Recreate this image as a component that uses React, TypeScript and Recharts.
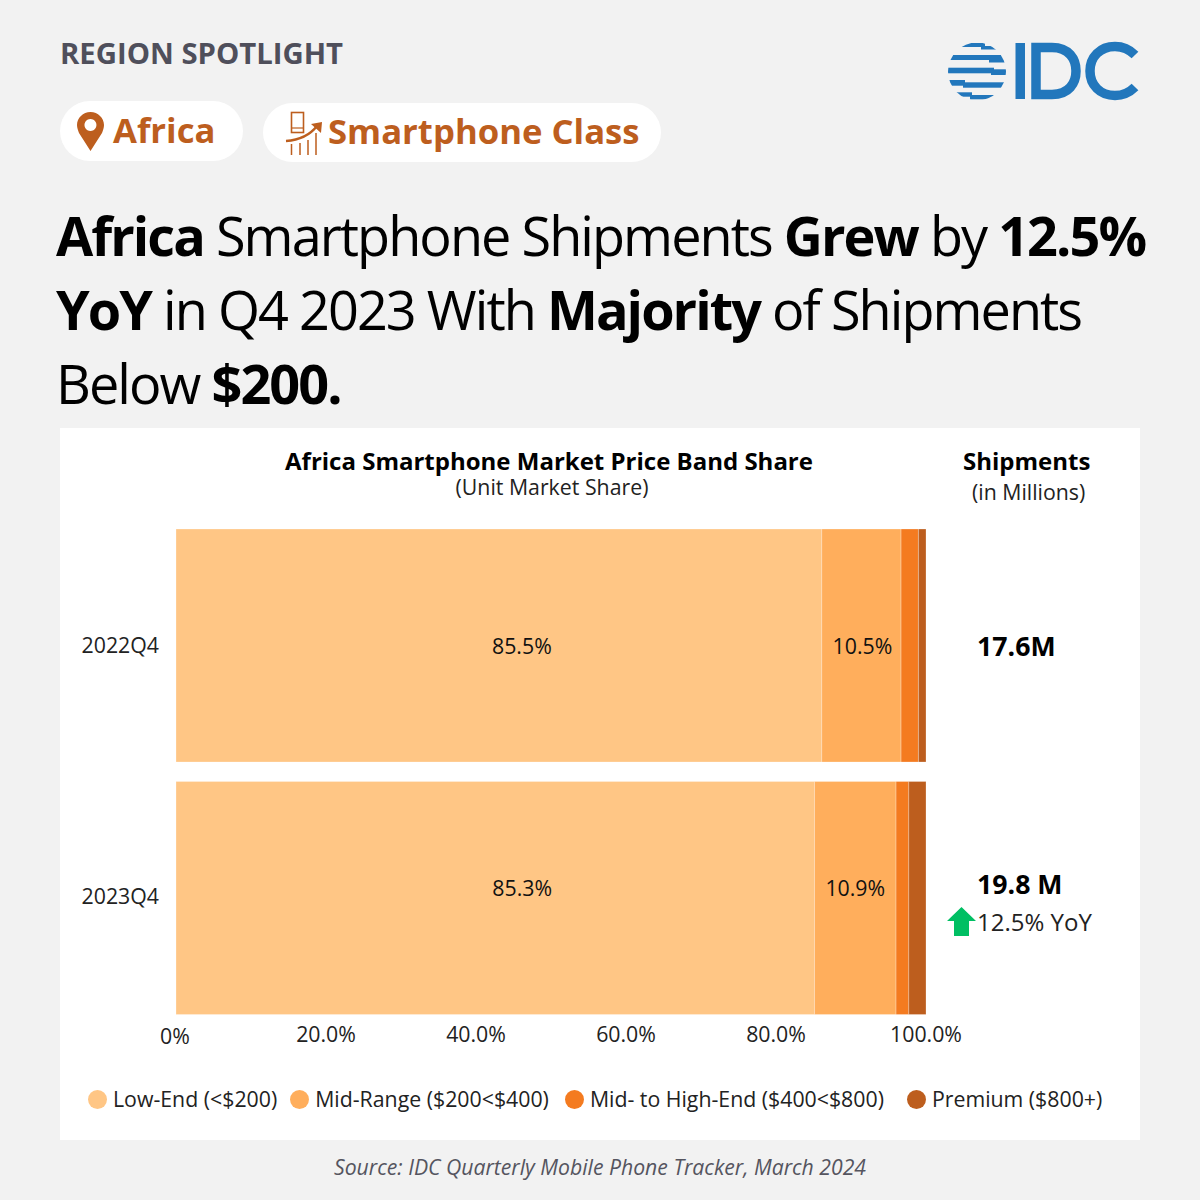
import { BarChart, Bar, XAxis, YAxis, Legend, LabelList } from 'recharts'

const FONT = '"Open Sans", sans-serif'
const BRAND = '#BD5E1E'
const LOGO = '#2277BC'

const quarters = ['2022Q4', '2023Q4']
const lowEnd = [85.5, 85.3]
const midRange = [10.5, 10.9]
const midHigh = [2.3, 1.7]
const premium = [1.0, 2.3]
const xTicks = [0, 0.2, 0.4, 0.6, 0.8, 1]

const seriesNames = [
  'Low-End (<$200)',
  'Mid-Range ($200<$400)',
  'Mid- to High-End ($400<$800)',
  'Premium ($800+)',
]
const seriesColors = ['#FFC685', '#FFAE5C', '#F47B20', '#BD5E1E']
const seriesValues = [lowEnd, midRange, midHigh, premium]

const chartData = quarters.map((q, i) => {
  const row: Record<string, number | string> = { quarter: q }
  seriesNames.forEach((name, s) => {
    row[name] = seriesValues[s][i]
  })
  return row
})

function XTick({ x, y, payload }: any) {
  const isZero = payload.value === 0
  return (
    <text
      x={isZero ? x - 1 : x}
      y={isZero ? y + 12 : y + 10}
      textAnchor="middle"
      fontSize={21.3}
      fontFamily={FONT}
      fill="#222"
    >
      {isZero ? '0%' : `${(payload.value * 100).toFixed(1)}%`}
    </text>
  )
}

function YTick({ x, y, payload }: any) {
  // the reference's second label sits a little above its bar's centre
  const up = payload.value === '2023Q4' ? 1 : -1
  return (
    <text x={x} y={y - up + 7} textAnchor="end" fontSize={21.3} fontFamily={FONT} fill="#222">
      {payload.value}
    </text>
  )
}

// the picture does not centre its low-end labels, and lifts the 2023 row
const labelShiftX = [[23, 27], [1, 0]]
const labelShiftY = [1, -9]

function BarLabel({ x, y, width, height, value, index, series }: any) {
  return (
    <text
      x={x + width / 2 + labelShiftX[series][index]}
      y={y + height / 2 + labelShiftY[index] + 7}
      textAnchor="middle"
      fontSize={21.3}
      fontFamily={FONT}
      fill="#111"
    >
      {`${Number(value).toFixed(1)}%`}
    </text>
  )
}

function LegendRow({ payload }: any) {
  const gaps = [13, 16, 23, 0]
  return (
    <div style={{ display: 'flex', fontFamily: FONT, fontSize: 21.3, color: '#222', lineHeight: '24px' }}>
      {(payload || []).map((p: any, i: number) => (
        <div key={p.value} style={{ display: 'flex', alignItems: 'center', marginRight: gaps[i] }}>
          <span
            style={{
              width: 19,
              height: 19,
              borderRadius: '50%',
              background: p.color,
              marginRight: 6,
              display: 'inline-block',
            }}
          />
          {p.value}
        </div>
      ))}
    </div>
  )
}

const logoStripes = [
  [945, 985, 43, 4],
  [981, 1010, 46, 3.5],
  [945, 992, 55, 5],
  [989, 1010, 55, 7.5],
  [945, 994, 67.7, 5.6],
  [991, 1010, 69.3, 5.7],
  [945, 965, 80, 5.7],
  [963, 1010, 82.3, 5.4],
  [945, 972, 92.3, 4.4],
  [970, 1010, 95, 4.3],
]

function Logo() {
  return (
    <svg width={1200} height={120} style={{ position: 'absolute', left: 0, top: 0 }}>
      <defs>
        <clipPath id="globe">
          <circle cx={977} cy={71.5} r={29} />
        </clipPath>
      </defs>
      <g clipPath="url(#globe)" fill={LOGO}>
        {logoStripes.map(([x1, x2, y, h], i) => (
          <rect key={i} x={x1} y={y} width={x2 - x1} height={h} />
        ))}
      </g>
      <rect x={1015.5} y={43} width={9.5} height={56} fill={LOGO} />
      <path
        d="M1036 47.5 H1052 C1069 47.5 1076 59 1076 71 C1076 83 1069 94.5 1052 94.5 H1036 Z"
        fill="none"
        stroke={LOGO}
        strokeWidth={9.5}
      />
      <path
        d="M1135 55 C1129 49 1122 46.5 1115 46.5 C1100 46.5 1090 57 1090 71 C1090 85 1100 95.5 1115 95.5 C1122 95.5 1129 93 1135 87"
        fill="none"
        stroke={LOGO}
        strokeWidth={9.5}
      />
    </svg>
  )
}

function PinIcon() {
  return (
    <svg width={32} height={42} style={{ position: 'absolute', left: 74, top: 111 }}>
      <path
        fillRule="evenodd"
        d="M16.5 1 C9 1 3 7 3 14 C3 17 4 19 5 22 L16.5 40 L28 22 C29 19 30 17 30 14 C30 7 24 1 16.5 1 Z M16.5 8 A6 6 0 1 1 16.4 8 Z"
        fill={BRAND}
      />
    </svg>
  )
}

function ClassIcon() {
  return (
    <svg width={40} height={48} style={{ position: 'absolute', left: 284, top: 110 }}>
      <g fill="none" stroke={BRAND}>
        <rect x={7.5} y={2.5} width={12} height={20} strokeWidth={1.6} />
        <path d="M8 18 H19" strokeWidth={1.2} />
        <path d="M2 31 C16 30 26 25 33 16" strokeWidth={2.4} />
        <path d="M7.5 34 V45 M16 33 V45 M24 30 V45 M32 23 V45" strokeWidth={1.5} />
      </g>
      <path d="M27 14 L38 12 L37 23 Z" fill={BRAND} />
    </svg>
  )
}

function Txt({ x, y, children, style }: any) {
  return (
    <div style={{ position: 'absolute', left: x, top: y, whiteSpace: 'nowrap', fontFamily: FONT, ...style }}>
      {children}
    </div>
  )
}

export default function App() {
  const titleStyle = { fontSize: 54, letterSpacing: -1.95, color: '#000', lineHeight: '74px' }
  return (
    <div style={{ position: 'absolute', left: 0, top: 0, width: 1200, height: 1200, background: '#F2F2F2', overflow: 'hidden' }}>
      <Txt x={60} y={33} style={{ fontSize: 29.3, fontWeight: 700, color: '#4F4F5B', lineHeight: '40px' }}>
        REGION SPOTLIGHT
      </Txt>
      <Logo />

      <div style={{ position: 'absolute', left: 60, top: 101, width: 183, height: 60, borderRadius: 30, background: '#fff' }} />
      <div style={{ position: 'absolute', left: 263, top: 103, width: 398, height: 59, borderRadius: 30, background: '#fff' }} />
      <PinIcon />
      <ClassIcon />
      <Txt x={113} y={106} style={{ fontSize: 34.7, fontWeight: 700, color: BRAND, lineHeight: '48px' }}>
        Africa
      </Txt>
      <Txt x={328} y={107} style={{ fontSize: 34.7, fontWeight: 700, color: BRAND, lineHeight: '48px' }}>
        Smartphone Class
      </Txt>

      <Txt x={56} y={198} style={titleStyle}>
        <b>Africa</b> Smartphone Shipments <b>Grew</b> by <b>12.5%</b>
      </Txt>
      <Txt x={56} y={272} style={titleStyle}>
        <b>YoY</b> in Q4 2023 With <b>Majority</b> of Shipments
      </Txt>
      <Txt x={56} y={346} style={titleStyle}>
        Below <b>$200.</b>
      </Txt>

      <div style={{ position: 'absolute', left: 60, top: 428, width: 1080, height: 712, background: '#fff' }}>
        <BarChart
          width={1080}
          height={712}
          data={chartData}
          layout="vertical"
          stackOffset="expand"
          barCategoryGap={10}
          margin={{ top: 91, right: 214, bottom: 62, left: 0 }}
        >
          <XAxis
            type="number"
            domain={[0, 1]}
            ticks={xTicks}
            axisLine={false}
            tickLine={false}
            height={30}
            tick={<XTick />}
            interval={0}
          />
          <YAxis
            type="category"
            dataKey="quarter"
            width={116}
            axisLine={false}
            tickLine={false}
            tickMargin={11}
            tick={<YTick />}
          />
          <Legend
            content={<LegendRow />}
            itemSorter={null}
            wrapperStyle={{ left: 28, bottom: 29, width: 1040 }}
          />
          {seriesNames.map((name, i) => (
            <Bar
              key={name}
              dataKey={name}
              stackId="share"
              fill={seriesColors[i]}
              stroke="#fff"
              strokeOpacity={0.25}
              isAnimationActive={false}
            >
              {i < 2 && <LabelList dataKey={name} content={<BarLabel series={i} />} />}
            </Bar>
          ))}
        </BarChart>
      </div>

      <Txt x={60} y={451} style={{ width: 978, textAlign: 'center', fontSize: 24, fontWeight: 700, color: '#000', lineHeight: '20px' }}>
        Africa Smartphone Market Price Band Share
      </Txt>
      <Txt x={60} y={477} style={{ width: 984, textAlign: 'center', fontSize: 21.3, color: '#222', lineHeight: '20px' }}>
        (Unit Market Share)
      </Txt>
      <Txt x={963} y={445} style={{ fontSize: 24, fontWeight: 700, color: '#000', lineHeight: '32px' }}>
        Shipments
      </Txt>
      <Txt x={972} y={478} style={{ fontSize: 21.3, color: '#222', lineHeight: '28px' }}>
        (in Millions)
      </Txt>
      <Txt x={977} y={629} style={{ fontSize: 26.7, fontWeight: 700, color: '#000', lineHeight: '34px' }}>
        17.6M
      </Txt>
      <Txt x={977} y={867} style={{ fontSize: 26.7, fontWeight: 700, color: '#000', lineHeight: '34px' }}>
        19.8 M
      </Txt>
      <svg width={30} height={30} style={{ position: 'absolute', left: 947, top: 906 }}>
        <path d="M0 15 L14.5 1 L29 15 L22 15 L22 30 L7 30 L7 15 Z" fill="#00BF63" />
      </svg>
      <Txt x={977} y={906} style={{ fontSize: 24, color: '#222', lineHeight: '32px' }}>
        12.5% YoY
      </Txt>
      <Txt x={0} y={1153} style={{ width: 1200, textAlign: 'center', fontSize: 21.2, fontStyle: 'italic', color: '#55555F', lineHeight: '28px' }}>
        Source: IDC Quarterly Mobile Phone Tracker, March 2024
      </Txt>
    </div>
  )
}
